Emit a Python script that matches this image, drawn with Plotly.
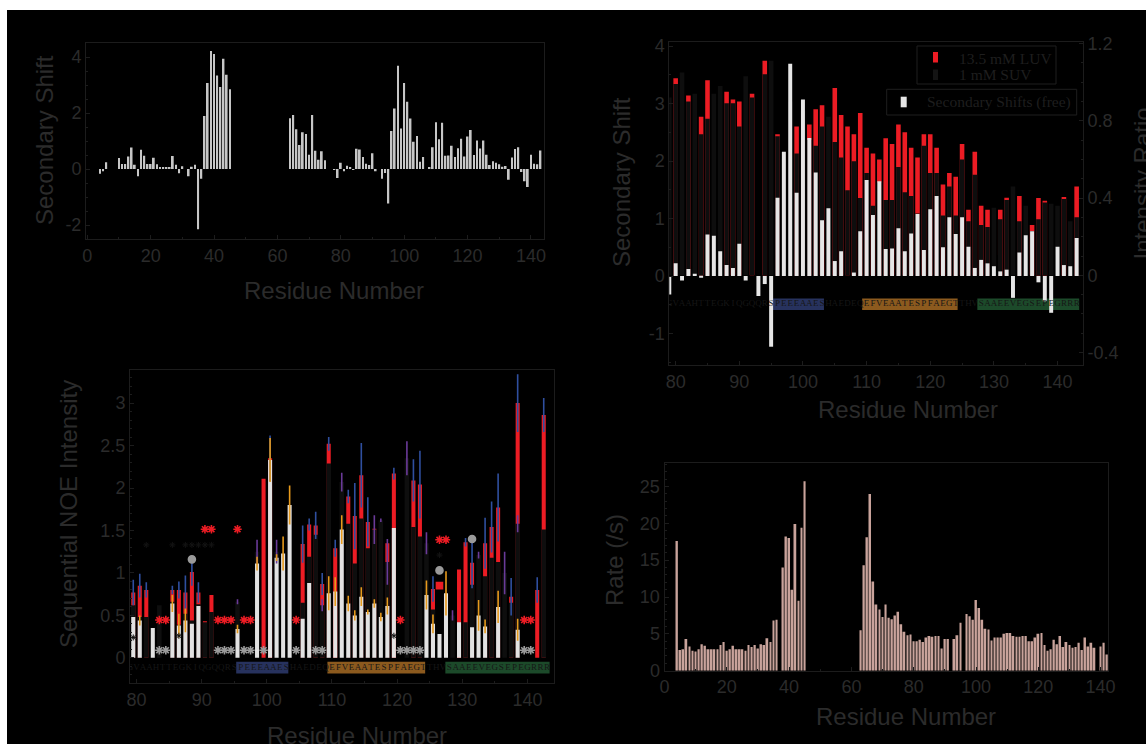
import plotly.graph_objects as go

W, H = 1146, 744
INK = "#2b2b2b"
FRAME = "#1c1c1c"
SANS = "Arial, 'Liberation Sans', sans-serif"
SERIF = "'Times New Roman', 'Liberation Serif', serif"
RED = "#ec1c24"
DARKBAR = "#0e0e0e"
WHITEBAR = "#e6e6e6"

# ---------------- data ----------------
# free-state secondary chemical shifts
ss_residue = [4, 5, 6, 10, 11, 12, 13, 14, 15, 16, 17, 18, 19, 20, 21, 22, 23, 24, 25, 26,
              27, 28, 29, 30, 32, 33, 34, 35, 36, 37, 38, 39, 40, 41, 42, 43, 44, 45,
              64, 65, 66, 67, 68, 69, 70, 71, 72, 73, 74, 75, 78, 79, 80, 81, 82, 83, 84,
              85, 86, 87, 88, 89, 90, 91, 93, 94, 95, 96, 97, 98, 99, 100, 101, 102, 103,
              104, 105, 106, 108, 109, 110, 111, 112, 113, 114, 115, 116, 117, 118, 119,
              120, 121, 122, 123, 124, 125, 126, 127, 128, 129, 130, 131, 132, 133, 134,
              135, 136, 137, 138, 139, 140, 141, 142, 143]
ss_value = [-0.17, -0.08, 0.24, 0.39, 0.18, 0.18, 0.45, 0.77, 0.15, -0.26, 0.69, 0.47, 0.18,
            0.18, 0.40, 0.17, 0.06, 0.06, 0.06, 0.07, 0.46, 0.15, -0.15, 0.10, -0.26, 0.08,
            0.15, -2.15, -0.35, 1.89, 3.07, 4.21, 4.11, 3.34, 2.93, 3.94, 3.37, 2.85,
            1.81, 1.93, 1.42, 0.86, 1.31, 1.25, 0.51, 1.93, 0.65, 0.33, 0.63, 0.31, -0.02,
            -0.32, 0.22, -0.08, 0.12, 0.04, -0.03, 0.72, 0.70, 0.43, 0.19, 0.14, 0.56, -0.08,
            -0.35, -0.14, -1.23, 1.36, 2.16, 3.69, 1.45, 3.07, 2.40, 1.80, 0.97, 1.18, 0.26,
            0.43, 0.06, 0.78, 1.67, 1.06, 1.65, 0.47, 0.48, 0.83, 0.43, 0.74, 1.08, 0.45,
            1.16, 1.39, 0.50, 1.02, 0.73, 1.02, 0.51, 0.14, 0.28, 0.22, 0.17, 0.08, 0.11,
            -0.38, 0.41, 0.71, 0.78, -0.11, -0.44, -0.64, 0.51, 0.19, 0.17, 0.66]

# bound/free intensity ratios, residues 79-143 (None = not determined)
ratio_residue = list(range(79, 144))
suv_ratio = [0.92, 0.99, 1.05, 0.90, 0.94, 0.73, 0.81, 0.94, 0.98, 0.89, 0.89, 0.77, 1.03,
             0.92, None, 1.04, 1.11, 0.72, 0.60, 0.90, 0.63, 0.85, 0.70, 0.67, 0.77, 0.82,
             0.69, 0.61, 0.44, 0.59, 0.40, 0.53, 0.36, 0.48, 0.39, 0.39, 0.56, 0.43, 0.41,
             0.32, 0.67, 0.53, 0.53, 0.31, 0.46, 0.31, 0.60, 0.28, 0.52, 0.26, 0.25, 0.35,
             0.29, 0.39, 0.46, 0.28, 0.36, 0.23, 0.29, 0.377, 0.37, 0.36, 0.395, 0.28, 0.30]
luv_ratio = [None, 1.02, None, 0.93, None, 0.82, 1.01, None, None, 0.95, 0.91, 0.90, None,
             0.94, None, 1.11, None, 0.73, None, None, 0.77, None, 0.78, 0.86, 0.88, None,
             0.97, 0.83, 0.77, 0.73, 0.84, 0.66, 0.63, 0.60, 0.71, 0.68, 0.78, 0.74, 0.66,
             0.61, 0.73, 0.73, 0.66, 0.47, 0.53, 0.51, 0.68, 0.34, 0.64, 0.36, 0.34, None,
             0.34, 0.401, None, 0.41, None, 0.26, 0.40, 0.386, None, None, 0.405, None, 0.46]

# sequential NOE intensities for residue pairs (i, i+1), i = 79-142
noe_residue = list(range(79, 143))
noe_white = [0.48, 0.44, None, 0.35, None, None, 0.64, 0.38, 0.44, 0.40, 0.61, None, None,
             None, None, None, 0.34, None, None, 1.11, None, 2.33, 1.18, 1.23, 1.80, None,
             0.46, 0.88, None, None, 0.76, 0.78, 1.51, 0.64, 0.50, 0.72, 0.54, 0.64, 0.48,
             0.61, 1.53, None, None, None, None, 0.74, 0.40, 0.28, 0.76, None, 0.42, None,
             0.36, 0.50, 0.37, None, 0.60, None, None, 0.33, None, None, None, None]
noe_white_err = [None, 0.06, None, None, None, None, 0.10, 0.14, 0.14, None, None, None, None,
                 None, None, None, 0.05, None, None, 0.08, None, 0.26, 0.04, 0.20, 0.23, None,
                 None, None, None, None, 0.20, 0.17, 0.17, 0.09, 0.06, 0.11, 0.03, 0.05, 0.05,
                 0.10, None, None, None, None, None, 0.17, 0.11, None, 0.26, None, None, None,
                 None, 0.18, 0.08, None, 0.19, None, None, 0.13, None, None, None, None]
noe_black = [0.62, 0.48, 0.48, None, 0.62, None, 0.66, 0.39, 0.52, 0.44, 0.63, 0.42, 0.54,
             None, None, None, 0.66, None, None, 1.25, None, None, 1.25, None, None, None,
             0.65, 1.19, 1.45, 0.62, 2.29, None, 2.07, 1.58, 1.11, 1.64, 1.29, 1.51, 1.62,
             1.13, None, None, 2.35, 1.54, 1.43, 1.35, 0.57, None, None, 0.50, None, 0.42,
             0.86, 1.21, 0.96, 1.18, 1.13, 1.00, 0.65, 1.58, None, None, None, 1.51]
noe_black_err = [None, None, None, None, None, None, None, None, None, None, None, None, None,
                 None, None, None, 0.03, None, None, 0.14, None, None, 0.14, None, None, None,
                 None, None, None, 0.07, None, None, 0.11, None, None, None, None, 0.17, 0.02,
                 0.27, None, None, 0.20, None, None, 0.13, None, None, None, 0.06, None, None,
                 None, 0.04, None, None, None, 0.25, None, 0.10, None, None, None, None]
noe_red = [0.77, 0.85, 0.80, None, None, None, 0.80, 0.80, 0.77, 1.01, 0.77, 0.43, 0.74,
           None, None, None, None, None, None, None, 2.11, 2.35, None, None, None, None,
           1.34, 1.57, 1.56, 0.87, 2.52, 1.29, None, 1.90, 1.67, 2.15, 1.60, 1.52, None,
           1.35, 2.17, None, None, 2.09, 2.04, None, 0.81, None, None, None, 1.04, 1.36,
           1.12, None, 1.35, 1.54, 1.77, None, 0.72, 3.00, None, None, 0.80, 2.86]
noe_red_err = [0.15, 0.14, 0.09, None, None, None, 0.05, 0.10, 0.20, 0.16, 0.12, None, None,
               None, None, None, None, None, None, None, None, 0.27, None, None, None, None,
               0.22, 0.07, 0.16, 0.13, 0.08, 0.10, None, 0.08, 0.39, 0.38, 0.29, None, None,
               None, 0.07, None, None, 0.25, 0.40, None, 0.15, None, None, None, None, 0.05,
               0.30, None, 0.30, 0.30, 0.40, None, 0.22, 0.34, None, None, 0.15, 0.20]

# flags for unassigned / overlapped pairs
flag_red_low = [83, 84, 92, 93, 94, 96, 97, 104, 120, 139, 140]
flag_red_high = [90, 91, 95]
flag_red_mid = [126, 127]
flag_grey = [83, 84, 92, 93, 94, 96, 97, 99, 104, 107, 108, 120, 121, 122, 123, 139, 140]
flag_dark_residue = [79, 86, 119, 126, 81, 85, 87, 88, 89, 90, 91]
flag_dark_level = [0.24, 0.26, 0.26, 1.21, 1.33, 1.33, 1.33, 1.33, 1.33, 1.33, 1.33]
dot_grey_residue = [88, 126, 131]
dot_grey_level = [1.16, 1.03, 1.40]
dot_red_residue = [126]
dot_red_level = [0.85]

# exchange / relaxation rates
rate_residue = [4, 5, 6, 7, 8, 9, 10, 11, 12, 13, 14, 15, 16, 17, 18, 19, 20, 21, 22, 23, 24,
                25, 26, 27, 28, 29, 30, 31, 32, 33, 34, 35, 36, 38, 39, 40, 41, 42, 43, 44,
                45, 63, 64, 65, 66, 67, 68, 69, 70, 71, 72, 73, 74, 75, 76, 77, 78, 79, 80,
                81, 82, 83, 84, 85, 86, 87, 88, 89, 90, 91, 93, 94, 95, 97, 98, 99, 100, 101,
                102, 103, 104, 105, 106, 107, 108, 109, 110, 111, 112, 113, 114, 115, 116,
                117, 118, 119, 120, 121, 122, 123, 124, 125, 126, 127, 128, 129, 130, 131,
                132, 133, 134, 135, 136, 137, 138, 140, 141, 142]
rate_value = [17.6, 2.8, 2.9, 4.3, 3.3, 2.7, 2.6, 2.9, 3.6, 3.4, 2.9, 2.9, 2.9, 2.9, 3.5, 3.9,
              2.7, 2.9, 3.4, 2.9, 2.9, 2.9, 2.7, 3.5, 3.2, 3.5, 3.0, 3.6, 3.5, 4.4, 3.9, 6.8,
              6.9, 14.0, 18.2, 18.0, 11.0, 19.9, 9.5, 19.4, 25.7, 5.5, 14.3, 18.1, 24.0,
              12.1, 9.0, 8.3, 7.3, 9.0, 7.2, 7.0, 7.5, 8.0, 6.3, 5.3, 4.8, 4.9, 4.0, 4.0,
              4.2, 3.9, 4.5, 4.7, 4.6, 4.7, 4.7, 3.0, 4.3, 4.3, 4.3, 4.8, 6.5, 7.7, 7.4, 6.9,
              9.6, 8.5, 6.9, 5.7, 5.6, 4.1, 4.5, 4.5, 4.5, 5.0, 5.1, 5.1, 4.7, 4.6, 4.6, 4.7,
              4.7, 4.0, 4.0, 4.5, 5.0, 5.1, 3.5, 2.7, 2.9, 4.2, 3.6, 4.7, 3.2, 3.9, 3.5, 3.1,
              3.2, 3.8, 2.8, 4.5, 3.3, 3.8, 3.1, 3.3, 3.8, 2.2]

# sequence of residues 79-143 and the three marked segments
sequence = "GVAAHTTEGKIQGQQRSPEEEAAESHAEDEQEFVEAATESPFAEGTTHVSAAEEVEGSEPEGRRR"
seg_start = [95.3, 109.3, 127.4]
seg_end = [103.3, 124.3, 143.4]
seg_color = ["#27325e", "#8c5a1e", "#1c4a2a"]

# series names for the intensity-ratio panel
legend_ratio = ["13.5 mM LUV", "1 mM SUV"]
legend_shift = "Secondary Shifts (free)"

# axis tick labels
a_xticks = [0, 20, 40, 60, 80, 100, 120, 140]
a_yticks = [-2, 0, 2, 4]
b_left_ticks = [-1, 0, 1, 2, 3, 4]
b_right_ticks = [-0.4, 0, 0.4, 0.8, 1.2]


# ---------------- helpers ----------------
def dx(a, b):
    return [a / W, b / W]


def dy(top, bottom):
    return [1 - bottom / H, 1 - top / H]


def label(v):
    return "%g" % v


def err_segments(xs, vals, errs):
    px, py = [], []
    for x, v, e in zip(xs, vals, errs):
        if v is None or e is None:
            continue
        px += [x, x, None]
        py += [v - e, v + e, None]
    return px, py


fig = go.Figure()

# ---------- panel A: secondary shifts, full length ----------
fig.add_trace(go.Bar(x=ss_residue, y=ss_value, width=0.55, marker=dict(color="#c6c6c6", line_width=0),
                     xaxis="x", yaxis="y", showlegend=False))

# ---------- panel B: intensity ratios + secondary shifts ----------
fig.add_trace(go.Bar(x=ratio_residue, y=luv_ratio, width=0.72, name=legend_ratio[0],
                     marker=dict(color=RED, line_width=0), xaxis="x2", yaxis="y3", showlegend=False))
fig.add_trace(go.Bar(x=ratio_residue, y=suv_ratio, width=0.72, name=legend_ratio[1],
                     marker=dict(color=DARKBAR, line_width=0), xaxis="x2", yaxis="y3", showlegend=False))
b_res = [r for r in ss_residue if r >= 79]
b_val = [v for r, v in zip(ss_residue, ss_value) if r >= 79]
fig.add_trace(go.Bar(x=b_res, y=b_val, width=0.62, name=legend_shift,
                     marker=dict(color=WHITEBAR, line_width=0), xaxis="x2", yaxis="y2", showlegend=False))
fig.add_trace(go.Scatter(x=ratio_residue, y=[-0.49] * len(ratio_residue), text=list(sequence),
                         mode="text", textfont=dict(family=SERIF, size=9, color="#161616"),
                         xaxis="x2", yaxis="y2", showlegend=False, hoverinfo="skip"))

# ---------- panel C: sequential NOEs ----------
noe_x = [r + 0.5 for r in noe_residue]
fig.add_trace(go.Bar(x=noe_x, y=noe_red, width=0.62, marker=dict(color=RED, line_width=0),
                     xaxis="x3", yaxis="y4", showlegend=False))
fig.add_trace(go.Bar(x=noe_x, y=noe_black, width=0.7, marker=dict(color=DARKBAR, line_width=0),
                     xaxis="x3", yaxis="y4", showlegend=False))
fig.add_trace(go.Bar(x=noe_x, y=noe_white, width=0.62, marker=dict(color="#e2e2e2", line_width=0),
                     xaxis="x3", yaxis="y4", showlegend=False))
for vals, errs, col in [(noe_red, noe_red_err, "#2f4f9f"),
                        (noe_black, noe_black_err, "#6a3a98"),
                        (noe_white, noe_white_err, "#e79a1c")]:
    ex, ey = err_segments(noe_x, vals, errs)
    fig.add_trace(go.Scatter(x=ex, y=ey, mode="lines", line=dict(color=col, width=1.6),
                             xaxis="x3", yaxis="y4", showlegend=False, hoverinfo="skip"))


def flags(res, levels, color, symbol, size, lw=1.6):
    fig.add_trace(go.Scatter(x=[r + 0.5 for r in res], y=levels, mode="markers",
                             marker=dict(symbol=symbol, size=size, color=color,
                                         line=dict(color=color, width=lw)),
                             xaxis="x3", yaxis="y4", showlegend=False, hoverinfo="skip"))


flags(flag_red_low, [0.445] * len(flag_red_low), RED, "asterisk-open", 7)
flags(flag_red_high, [1.515] * len(flag_red_high), RED, "asterisk-open", 7)
flags(flag_red_mid, [1.39] * len(flag_red_mid), RED, "asterisk-open", 7)
flags(flag_grey, [0.09] * len(flag_grey), "#9a9a9a", "asterisk-open", 7)
flags(flag_dark_residue, flag_dark_level, "#131313", "asterisk-open", 5, 1.0)
flags(dot_grey_residue, dot_grey_level, "#9a9a9a", "circle", 7)
flags(dot_red_residue, dot_red_level, RED, "square", 6)
fig.add_trace(go.Scatter(x=ratio_residue, y=[-0.115] * len(ratio_residue), text=list(sequence),
                         mode="text", textfont=dict(family=SERIF, size=9, color="#161616"),
                         xaxis="x3", yaxis="y4", showlegend=False, hoverinfo="skip"))

# ---------- panel D: rates ----------
fig.add_trace(go.Bar(x=rate_residue, y=rate_value, width=0.58, marker=dict(color="#c9a39b", line_width=0),
                     xaxis="x4", yaxis="y5", showlegend=False))

# background, segment bands (panels B and C) and legend boxes
def prect(x0, y0, x1, y1, **kw):
    return dict(type="rect", xref="paper", yref="paper", x0=x0 / W, x1=x1 / W,
                y0=1 - y1 / H, y1=1 - y0 / H, **kw)


shapes = [prect(7, 10, W, H, fillcolor="black", line_width=0, layer="below")]
for s, e, c in zip(seg_start, seg_end, seg_color):
    shapes.append(dict(type="rect", xref="x2", yref="y2", x0=s, x1=e, y0=-0.39, y1=-0.59,
                       fillcolor=c, line_width=0, layer="below"))
    shapes.append(dict(type="rect", xref="x3", yref="y4", x0=s, x1=e, y0=-0.047, y1=-0.184,
                       fillcolor=c, line_width=0, layer="below"))
LEG_LINE = dict(color="#1e1e1e", width=1)
shapes += [
    prect(917, 46, 1056, 84, line=LEG_LINE, fillcolor="rgba(0,0,0,0)"),
    prect(933, 52, 938, 62.5, fillcolor=RED, line_width=0),
    prect(933, 69.5, 938, 80, fillcolor="#141414", line_width=0),
    prect(886.7, 89.3, 1076.7, 115, line=LEG_LINE, fillcolor="rgba(0,0,0,0)"),
    prect(900.7, 96.7, 906.7, 107.3, fillcolor=WHITEBAR, line_width=0),
]


def axis(domain, rng, dtick=None, minor=None, ticks_at=None, **kw):
    d = dict(domain=domain, range=rng, showgrid=False, zeroline=False, showline=True,
             linecolor=FRAME, linewidth=1, mirror=True, ticks="inside", ticklen=4,
             tickcolor=FRAME, tickfont=dict(family=SANS, size=18, color=INK))
    if dtick is not None:
        d["dtick"] = dtick
    if ticks_at is not None:
        d["tickmode"] = "array"
        d["tickvals"] = ticks_at
        d["ticktext"] = [label(v) for v in ticks_at]
    if minor is not None:
        d["minor"] = dict(ticks="inside", dtick=minor, ticklen=2, tickcolor=FRAME)
    d.update(kw)
    return d


fig.update_layout(
    width=W, height=H, margin=dict(l=0, r=0, t=0, b=0, autoexpand=False),
    paper_bgcolor="white", plot_bgcolor="rgba(0,0,0,0)",
    barmode="overlay", shapes=shapes, showlegend=False,
    xaxis=axis(dx(86, 544.3), [-0.4, 144.2], None, 10, a_xticks, anchor="y"),
    yaxis=axis(dy(43, 239), [-2.5, 4.5], None, 0.5, a_yticks, anchor="x"),
    xaxis2=axis(dx(669.3, 1083), [79, 144], 10, 5, anchor="y3", tick0=80),
    yaxis3=axis(dy(41.7, 365), [-0.464, 1.209], None, 0.1, b_right_ticks, anchor="x2",
                side="right", mirror=False),
    yaxis2=axis(None, [-1.548, 4.075], None, 0.5, b_left_ticks, anchor="x2", side="left",
                overlaying="y3", mirror=False),
    xaxis3=axis(dx(130, 553.5), [79, 144], 10, 5, anchor="y4", tick0=80),
    yaxis4=axis(dy(370, 683.3), [-0.30, 3.39], 0.5, 0.1, anchor="x3", tick0=0),
    xaxis4=axis(dx(664.5, 1108.4), [0, 142.5], 20, 10, anchor="y5", tick0=0),
    yaxis5=axis(dy(463.3, 670.7), [0, 28.15], 5, 1, anchor="x4", tick0=0),
)

titles = [
    ("Secondary Shift", 44, 140, -90), ("Residue Number", 334, 290, 0),
    ("Secondary Shift", 621, 182, -90), ("Residue Number", 908, 410, 0),
    ("Sequential NOE Intensity", 68, 514, -90), ("Residue Number", 357, 735, 0),
    ("Rate (/s)", 614, 560, -90), ("Residue Number", 906, 716, 0),
]
ann = [dict(text=t, x=x / W, y=1 - y / H, xref="paper", yref="paper", showarrow=False,
            xanchor="center", yanchor="middle", textangle=a,
            font=dict(family=SANS, size=24, color=INK)) for t, x, y, a in titles]
ann.append(dict(text="Intensity Ratio", x=1126 / W, y=1 - 184 / H, xref="paper", yref="paper",
                xanchor="left", yanchor="middle", showarrow=False, textangle=-90,
                font=dict(family=SANS, size=24, color=INK)))
# legend entries
LEG_FONT = dict(family=SERIF, size=15.5, color="#1e1e1e")
for txt, x, y in [(legend_ratio[0], 957, 58.5), (legend_ratio[1], 957, 74.5), (legend_shift, 925, 102)]:
    ann.append(dict(text=txt, x=x / W, y=1 - y / H, xref="paper", yref="paper", showarrow=False,
                    xanchor="left", yanchor="middle", font=LEG_FONT))
fig.update_layout(annotations=ann)

fig.write_html("out.html")
